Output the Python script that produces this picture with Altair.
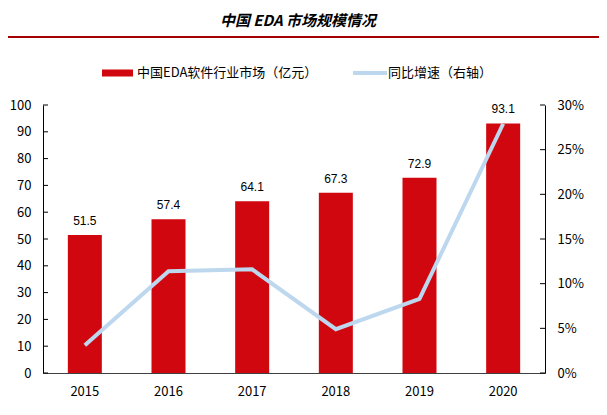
import altair as alt
import pandas as pd

years = ["2015", "2016", "2017", "2018", "2019", "2020"]
market = [51.5, 57.4, 64.1, 67.3, 72.9, 93.1]
growth = [0.031, 0.114, 0.116, 0.049, 0.083, 0.279]
left_ticks = [0, 10, 20, 30, 40, 50, 60, 70, 80, 90, 100]
right_ticks = [0, 0.05, 0.10, 0.15, 0.20, 0.25, 0.30]

title_text = "中国 EDA 市场规模情况"
bar_name = "中国EDA软件行业市场（亿元）"
line_name = "同比增速（右轴）"

FONT = "Noto Sans CJK SC"
W, H = 502, 268
RED = "#d0070f"
BLUE = "#bdd7ee"

df = pd.DataFrame({"year": years, "market": market, "growth": growth})
lt = pd.DataFrame({"v": left_ticks})
rt = pd.DataFrame({"v": right_ticks})

x_axis = alt.Axis(labelAngle=0, ticks=False, labelPadding=12, title=None,
                  labelFont=FONT, labelFontSize=13, labelColor="#000",
                  domainColor="#404040", domainWidth=1)
yl_axis = alt.Axis(values=left_ticks, ticks=False, grid=False, labelPadding=12,
                   title=None, labelOverlap=False, labelFont=FONT, labelFontSize=13,
                   labelColor="#000", domainColor="#000", domainWidth=1,
                   orient="left")
yr_axis = alt.Axis(values=right_ticks, format=".0%", ticks=False, grid=False,
                   title=None, labelPadding=12, labelOverlap=False, labelFont=FONT,
                   labelFontSize=13, labelColor="#000", domainColor="#000",
                   domainWidth=1, orient="right")

xscale = alt.Scale(paddingInner=0.0, paddingOuter=0.0)
yleft = alt.Scale(domain=[0, 100], nice=False)
yright = alt.Scale(domain=[0, 0.3], nice=False)


def X():
    return alt.X("year:N", sort=years, title=None, scale=xscale, axis=x_axis)


base = alt.Chart(df)
bars = base.mark_bar(color=RED, size=34).encode(
    x=X(),
    y=alt.Y("market:Q", scale=yleft, title=None, axis=yl_axis),
)
labels = base.mark_text(baseline="bottom", dy=-7, font="Liberation Sans",
                        fontSize=12, color="#000").encode(
    x=X(),
    y=alt.Y("market:Q", scale=yleft, title=None, axis=yl_axis),
    text=alt.Text("market:Q", format=".1f"),
)
lticks = alt.Chart(lt).mark_rule(color="#000", strokeWidth=1).encode(
    y=alt.Y("v:Q", scale=yleft, title=None, axis=yl_axis),
    x=alt.value(0), x2=alt.value(5),
)
left = alt.layer(bars, labels, lticks)

line = base.mark_line(color=BLUE, strokeWidth=4).encode(
    x=X(),
    y=alt.Y("growth:Q", scale=yright, title=None, axis=yr_axis),
)
rticks = alt.Chart(rt).mark_rule(color="#000", strokeWidth=1).encode(
    y=alt.Y("v:Q", scale=yright, title=None, axis=yr_axis),
    x=alt.value(W - 5), x2=alt.value(W),
)
right = alt.layer(line, rticks)

one = pd.DataFrame({"t": [title_text]})
title = alt.Chart(one).mark_text(font=FONT, fontSize=15, fontWeight="bold",
                                 fontStyle="italic", color="#000", align="center",
                                 baseline="middle").encode(
    text="t:N", x=alt.value(255), y=alt.value(-84))
hline = alt.Chart(one).mark_rule(color="#a50000", strokeWidth=2).encode(
    x=alt.value(-35), x2=alt.value(W + 54), y=alt.value(-68))
sw1 = alt.Chart(one).mark_rule(color=RED, strokeWidth=7).encode(
    x=alt.value(59), x2=alt.value(90), y=alt.value(-32))
sw2 = alt.Chart(one).mark_rule(color=BLUE, strokeWidth=4).encode(
    x=alt.value(310), x2=alt.value(344), y=alt.value(-32))
lg1 = alt.Chart(pd.DataFrame({"t": [bar_name]})).mark_text(
    font=FONT, fontSize=13, color="#000", align="left", baseline="middle").encode(
    text="t:N", x=alt.value(94), y=alt.value(-32))
lg2 = alt.Chart(pd.DataFrame({"t": [line_name]})).mark_text(
    font=FONT, fontSize=13, color="#000", align="left", baseline="middle").encode(
    text="t:N", x=alt.value(345), y=alt.value(-32))
annot = alt.layer(title, hline, sw1, sw2, lg1, lg2)

chart = alt.layer(left, right, annot).resolve_scale(y="independent").properties(
    width=W, height=H,
    padding={"left": 35, "top": 97, "right": 54, "bottom": 34},
    autosize=alt.AutoSizeParams(type="none"),
    background="white",
).configure_view(stroke=None)

chart.save("out.html", embed_options={"renderer": "svg", "actions": False})
